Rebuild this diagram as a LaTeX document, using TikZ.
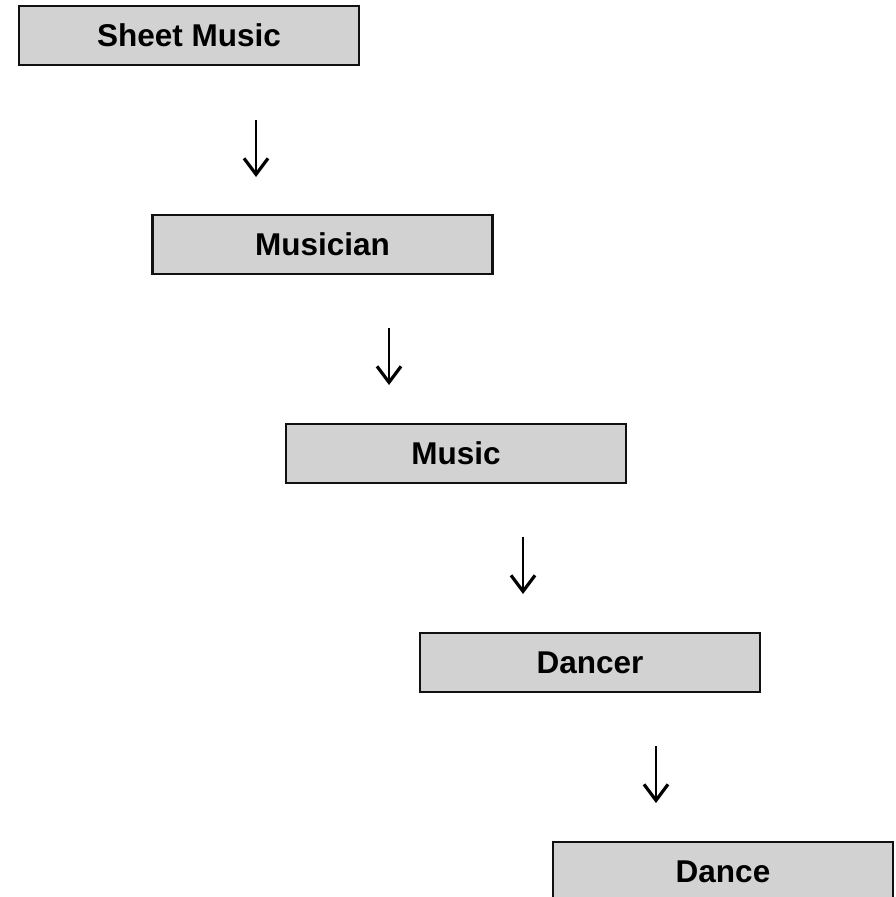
\documentclass[tikz,border=0pt]{standalone}
\usepackage{fontspec}
\setmainfont{Liberation Sans}
\usetikzlibrary{arrows.meta}
\definecolor{boxfill}{HTML}{D2D2D2}
\definecolor{boxline}{HTML}{111111}
\tikzset{
  stagebox/.style={draw=boxline, fill=boxfill, line width=2.2pt, minimum width=340pt,
    minimum height=59pt, inner sep=0pt, font=\fontsize{31.5}{36}\selectfont\bfseries},
  flowarrow/.style={line width=2.6pt, -{Straight Barb[length=16pt,width=24pt,line width=3.2pt]}}
}
\begin{document}
\begin{tikzpicture}[x=1pt,y=-1pt]
\useasboundingbox (0,0) rectangle (896,897);
\node[stagebox] (sheet)    at (189,35.5)   {Sheet Music};
\node[stagebox] (musician) at (322.5,244.5) {Musician};
\node[stagebox] (music)    at (456,453.5)  {Music};
\node[stagebox] (dancer)   at (590,662.5)  {Dancer};
\node[stagebox] (dance)    at (723,871.5)  {Dance};
\coordinate (a1s) at (256,120); \coordinate (a1e) at (256,177);
\coordinate (a2s) at (389,328); \coordinate (a2e) at (389,385);
\coordinate (a3s) at (523,537); \coordinate (a3e) at (523,594);
\coordinate (a4s) at (656,746); \coordinate (a4e) at (656,803);
\draw[flowarrow] (a1s) -- (a1e);
\draw[flowarrow] (a2s) -- (a2e);
\draw[flowarrow] (a3s) -- (a3e);
\draw[flowarrow] (a4s) -- (a4e);
\end{tikzpicture}
\end{document}
